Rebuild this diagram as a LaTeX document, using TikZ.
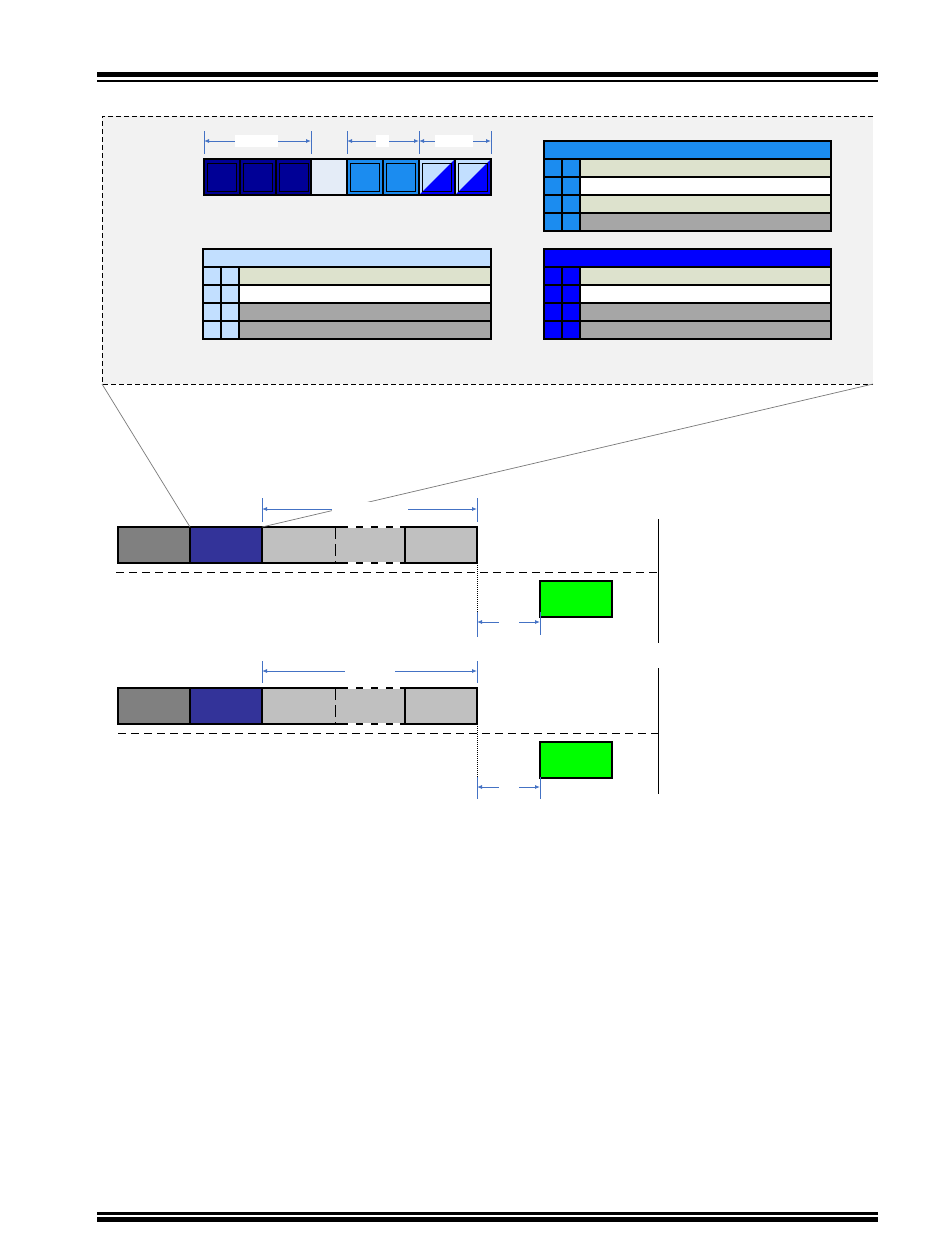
\documentclass[tikz,border=0pt]{standalone}
\usetikzlibrary{arrows.meta}
\definecolor{navy}{RGB}{0,0,150}
\definecolor{pale}{RGB}{228,236,247}
\definecolor{midblue}{RGB}{27,140,240}
\definecolor{lightblue}{RGB}{194,223,255}
\definecolor{pureblue}{RGB}{0,0,255}
\definecolor{beige}{RGB}{221,226,205}
\definecolor{rowgray}{RGB}{166,166,166}
\definecolor{panel}{RGB}{242,242,242}
\definecolor{dimblue}{RGB}{68,114,196}
\definecolor{darkcell}{RGB}{128,128,128}
\definecolor{indigo}{RGB}{51,51,153}
\definecolor{cellgray}{RGB}{192,192,192}
\definecolor{brightgreen}{RGB}{0,255,0}
\definecolor{callgray}{RGB}{120,120,120}
\newcommand{\rbox}[6]{\node[box,fill=#2,minimum width={#5-#3},minimum height={#6-#4}] (#1) at (#3,#4) {};}
\begin{document}
\begin{tikzpicture}[x=1pt,y=-1pt,
  box/.style={draw=black,line width=1.1pt,inner sep=0pt,outer sep=0pt,anchor=north west},
  inbox/.style={draw=black,line width=1pt,inner sep=0pt,outer sep=0pt,anchor=north west,minimum width=29,minimum height=28},
  dimline/.style={draw=dimblue,line width=0.9pt},
  dimarrow/.style={dimline,{Latex[length=5pt,width=4pt]}-{Latex[length=5pt,width=4pt]}},
  labelbox/.style={fill=white,inner sep=0pt,outer sep=0pt,anchor=north west},
  callout/.style={draw=callgray,line width=0.7pt},
  sepline/.style={draw=black,line width=0.9pt,dash pattern=on 8pt off 5pt}]
\useasboundingbox (0,0) rectangle (950,1248);
% page rules
\fill[black] (97,72) rectangle (878,77);
\fill[black] (97,80) rectangle (878,82);
\fill[black] (97,1212) rectangle (878,1215);
\fill[black] (97,1217) rectangle (878,1222);
% panel
\fill[panel] (102,116) rectangle (873,384);
\draw[line width=0.9pt,dash pattern=on 5pt off 3pt] (873,116) -- (102,116) -- (102,384) -- (873,384);
\coordinate (pbl) at (102,384);
\coordinate (pbr) at (873,384);
% bit bar
\rbox{b1}{navy}{204}{159}{240}{195}
\rbox{b2}{navy}{240}{159}{276}{195}
\rbox{b3}{navy}{276}{159}{311}{195}
\rbox{b4}{pale}{311}{159}{347}{195}
\rbox{b5}{midblue}{347}{159}{383}{195}
\rbox{b6}{midblue}{383}{159}{419}{195}
\fill[lightblue] (419,159) rectangle (455,195);
\fill[pureblue] (455,159) -- (455,195) -- (419,195) -- cycle;
\fill[lightblue] (455,159) rectangle (491,195);
\fill[pureblue] (491,159) -- (491,195) -- (455,195) -- cycle;
\node[box,minimum width=36,minimum height=36] (b7) at (419,159) {};
\node[box,minimum width=36,minimum height=36] (b8) at (455,159) {};
\node[inbox,fill=navy] (i1) at (207,163) {};
\node[inbox,fill=navy] (i2) at (243,163) {};
\node[inbox,fill=navy] (i3) at (279,163) {};
\node[inbox,fill=midblue] (i5) at (350,163) {};
\node[inbox,fill=midblue] (i6) at (386,163) {};
\node[inbox] (i7) at (422,163) {};
\node[inbox] (i8) at (458,163) {};
% top dimension arrows
\foreach \x/\n in {204/ta,311/tb,347/tc,419/td,491/te}{
  \coordinate (\n0) at (\x,131);
  \coordinate (\n1) at (\x,154);
  \coordinate (\n) at (\x,141);
  \draw[dimline] (\n0) -- (\n1);
}
\draw[dimarrow] (ta) -- (tb);
\draw[dimarrow] (tc) -- (td);
\draw[dimarrow] (td) -- (te);
\node[labelbox,minimum width=43,minimum height=12] (l1) at (235,135) {};
\node[labelbox,minimum width=13,minimum height=12] (l2) at (376,135) {};
\node[labelbox,minimum width=38,minimum height=12] (l3) at (435,135) {};
% top right table
\rbox{trh}{midblue}{544}{141}{831}{159}
\foreach \i/\c in {0/beige,1/white,2/beige,3/rowgray}{
  \pgfmathsetmacro{\ya}{159+18*\i}
  \pgfmathsetmacro{\yb}{177+18*\i}
  \rbox{tra\i}{midblue}{544}{\ya}{562}{\yb}
  \rbox{trb\i}{midblue}{562}{\ya}{580}{\yb}
  \rbox{trc\i}{\c}{580}{\ya}{831}{\yb}
}
% bottom left table
\rbox{blh}{lightblue}{203}{249}{491}{267}
\foreach \i/\c in {0/beige,1/white,2/rowgray,3/rowgray}{
  \pgfmathsetmacro{\ya}{267+18*\i}
  \pgfmathsetmacro{\yb}{285+18*\i}
  \rbox{bla\i}{lightblue}{203}{\ya}{221}{\yb}
  \rbox{blb\i}{lightblue}{221}{\ya}{239}{\yb}
  \rbox{blc\i}{\c}{239}{\ya}{491}{\yb}
}
% bottom right table
\rbox{brh}{pureblue}{544}{249}{831}{267}
\foreach \i/\c in {0/beige,1/white,2/rowgray,3/rowgray}{
  \pgfmathsetmacro{\ya}{267+18*\i}
  \pgfmathsetmacro{\yb}{285+18*\i}
  \rbox{bra\i}{pureblue}{544}{\ya}{562}{\yb}
  \rbox{brb\i}{pureblue}{562}{\ya}{580}{\yb}
  \rbox{brc\i}{\c}{580}{\ya}{831}{\yb}
}
% ---------- row 1 ----------
\rbox{ra1}{darkcell}{118}{527}{190}{563}
\rbox{ra2}{indigo}{190}{527}{262}{563}
\rbox{ra3}{cellgray}{262}{527}{477}{563}
\draw[line width=1.1pt] (405,527) -- (405,563);
\draw[line width=1pt,dash pattern=on 12pt off 5pt] (335,527) -- (335,563);
\draw[white,line width=1.2pt,dash pattern=on 8pt off 7pt] (348,527) -- (400,527);
\draw[white,line width=1.2pt,dash pattern=on 8pt off 7pt] (348,563) -- (400,563);
% callout lines
\draw[callout] (pbl) -- (ra2.north west);
\draw[callout] (pbr) -- (ra3.north west);
% dimension above row 1
\coordinate (d1a) at (262,509);
\coordinate (d1b) at (477,509);
\draw[dimline] (262,498) -- (262,522);
\draw[dimline] (477,498) -- (477,522);
\draw[dimarrow] (d1a) -- (d1b);
\node[labelbox,minimum width=76,minimum height=16] (g1) at (332,502) {};
% separators
\coordinate (v1t) at (658,519);
\coordinate (v1b) at (658,643);
\draw[line width=1pt] (v1t) -- (v1b);
\draw[sepline] (116,572) -- (658,572);
\draw[line width=0.8pt,dash pattern=on 1pt off 1pt] (ra3.south east) -- (477,612);
\rbox{gr1}{brightgreen}{540}{581}{612}{617}
\draw[dimline] (477,612) -- (477,637);
\draw[dimline] (540,612) -- (540,635);
\coordinate (s1a) at (477,622);
\coordinate (s1b) at (540,622);
\draw[dimarrow] (s1a) -- (s1b);
\node[labelbox,minimum width=20,minimum height=10] (h1) at (499,617) {};
% ---------- row 2 ----------
\rbox{rb1}{darkcell}{118}{688}{190}{724}
\rbox{rb2}{indigo}{190}{688}{262}{724}
\rbox{rb3}{cellgray}{262}{688}{477}{724}
\draw[line width=1.1pt] (405,688) -- (405,724);
\draw[line width=1pt,dash pattern=on 12pt off 5pt] (335,688) -- (335,724);
\draw[white,line width=1.2pt,dash pattern=on 8pt off 7pt] (348,688) -- (400,688);
\draw[white,line width=1.2pt,dash pattern=on 8pt off 7pt] (348,724) -- (400,724);
\coordinate (d2a) at (262,671);
\coordinate (d2b) at (477,671);
\draw[dimline] (262,661) -- (262,683);
\draw[dimline] (477,661) -- (477,683);
\draw[dimarrow] (d2a) -- (d2b);
\node[labelbox,minimum width=50,minimum height=14] (g2) at (345,664) {};
\coordinate (v2t) at (658,668);
\coordinate (v2b) at (658,794);
\draw[line width=1pt] (v2t) -- (v2b);
\draw[sepline] (118,733) -- (658,733);
\draw[line width=0.8pt,dash pattern=on 1pt off 1pt] (rb3.south east) -- (477,777);
\rbox{gr2}{brightgreen}{540}{742}{612}{778}
\draw[dimline] (477,777) -- (477,799);
\draw[dimline] (540,777) -- (540,799);
\coordinate (s2a) at (477,787);
\coordinate (s2b) at (540,787);
\draw[dimarrow] (s2a) -- (s2b);
\node[labelbox,minimum width=20,minimum height=10] (h2) at (499,782) {};
\end{tikzpicture}
\end{document}
